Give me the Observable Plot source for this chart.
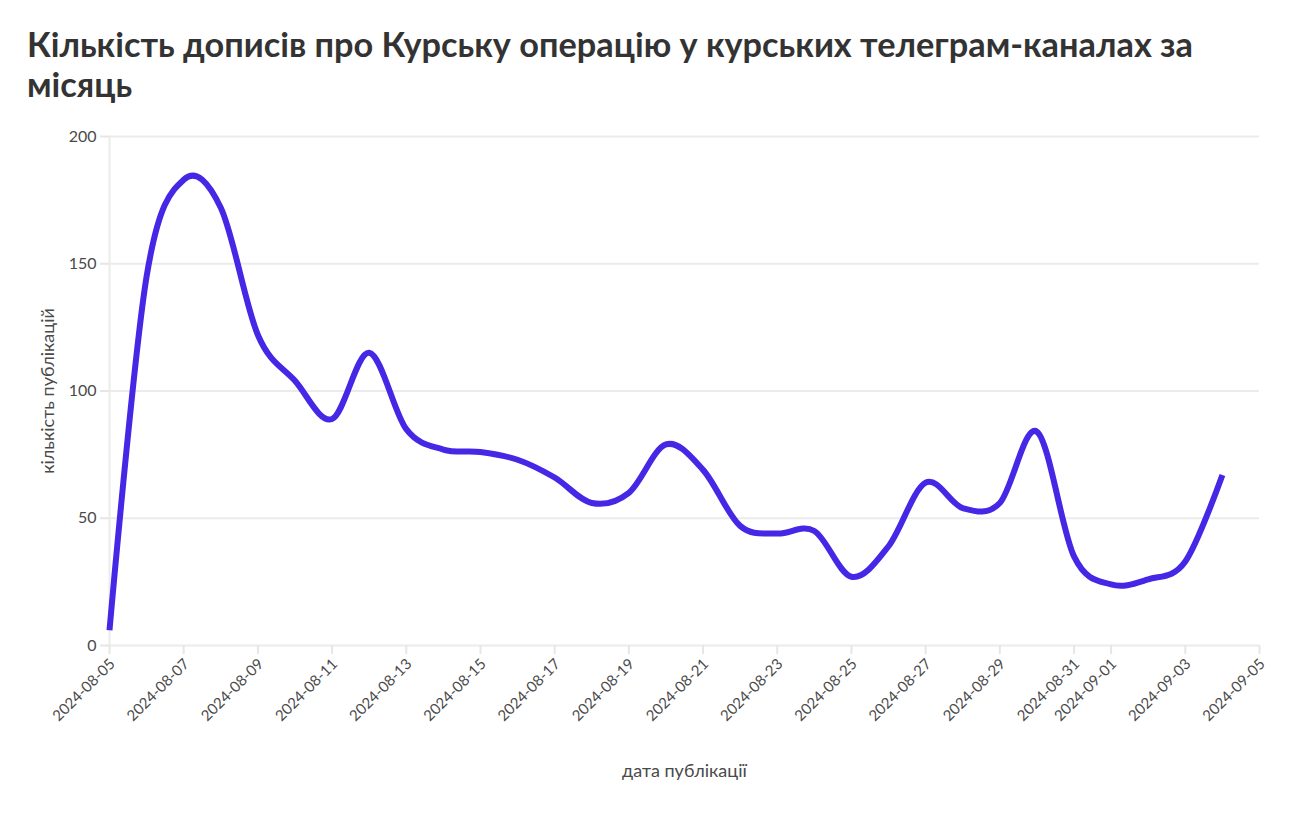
<!DOCTYPE html>
<html><head><meta charset="utf-8">
<script src="https://cdn.jsdelivr.net/npm/d3@7"></script>
<script src="https://cdn.jsdelivr.net/npm/@observablehq/plot@0.6"></script>
<style>
body{margin:0;background:#fff;font-family:Lato,"Noto Sans",sans-serif;}
#title{box-sizing:border-box;height:120px;padding:24px 0 0 27px;width:1240px;font-weight:700;color:#333;line-height:40px;font-size:36px;}
</style></head><body>
<div id="title">Кількість дописів про Курську операцію у курських телеграм-каналах за місяць</div>
<div id="chart"></div>
<script>
const dates = ["2024-08-05","2024-08-06","2024-08-07","2024-08-08","2024-08-09","2024-08-10","2024-08-11","2024-08-12","2024-08-13","2024-08-14","2024-08-15","2024-08-16","2024-08-17","2024-08-18","2024-08-19","2024-08-20","2024-08-21","2024-08-22","2024-08-23","2024-08-24","2024-08-25","2024-08-26","2024-08-27","2024-08-28","2024-08-29","2024-08-30","2024-08-31","2024-09-01","2024-09-02","2024-09-03","2024-09-04"];
const counts = [6,145,183,172,122,104,89,115,85,77,76,73,66,56,60,79,69,47,44,45,27,39,64,54,56,84,35,24,26,33,67];
const xTickLabels = ["2024-08-05","2024-08-07","2024-08-09","2024-08-11","2024-08-13","2024-08-15","2024-08-17","2024-08-19","2024-08-21","2024-08-23","2024-08-25","2024-08-27","2024-08-29","2024-08-31","2024-09-01","2024-09-03","2024-09-05"];
const yTicks = [0,50,100,150,200];
const xDomain = ["2024-08-05","2024-09-05"];
const titleLine1 = "Кількість дописів про Курську операцію у курських телеграм-каналах за";
const xLabel = "дата публікації";
const yLabel = "кількість публікацій";

// fit title font size to reference width
const cv = document.createElement("canvas").getContext("2d");
cv.font = "700 100px Lato";
const w = cv.measureText(titleLine1).width;
document.getElementById("title").style.fontSize = (100 * 1166 / w).toFixed(2) + "px";

const data = dates.map((d, i) => ({date: new Date(d), count: counts[i]}));
const d0 = new Date(xDomain[0]), d1 = new Date(xDomain[1]);
const xTicks = xTickLabels.map(d => new Date(d));

const chart = Plot.plot({
  width: 1300,
  height: 716,
  marginTop: 16,
  marginBottom: 191,
  marginLeft: 109,
  marginRight: 41,
  style: {fontFamily: "Lato, 'Noto Sans', sans-serif", fontSize: "15px", color: "#4a4a4a", background: "#fff"},
  x: {type: "utc", domain: [d0, d1]},
  y: {domain: [0, 200]},
  marks: [
    Plot.gridY(yTicks, {stroke: "#ebebeb", strokeOpacity: 1, strokeWidth: 2}),
    Plot.ruleX([d0], {y1: 0, y2: 200, stroke: "#ebebeb", strokeWidth: 2}),
    Plot.axisY({ticks: yTicks, tickSize: 9, tickPadding: 4, stroke: "#e6e6e6", strokeOpacity: 1, strokeWidth: 2, fill: "#4a4a4a", fontSize: 16, label: null}),
    Plot.axisX({ticks: xTicks, tickFormat: () => "", tickSize: 9, stroke: "#e6e6e6", strokeOpacity: 1, strokeWidth: 2, label: null}),
    Plot.axisX({ticks: xTicks, tickFormat: d3.utcFormat("%Y-%m-%d"), tickRotate: -45, tickSize: 0, tickPadding: 16, dx: 3, fill: "#4a4a4a", fontSize: 15, label: null}),
    Plot.text([yLabel], {frameAnchor: "left", textAnchor: "middle", dx: -61, rotate: -90, fontSize: 18, fill: "#4a4a4a"}),
    Plot.text([xLabel], {frameAnchor: "bottom", textAnchor: "middle", dy: 131, fontSize: 18, fill: "#4a4a4a"}),
    Plot.line(data, {x: "date", y: "count", curve: "cardinal", stroke: "#4527e6", strokeWidth: 6, strokeLinecap: "butt", strokeLinejoin: "round"})
  ]
});
document.getElementById("chart").appendChild(chart);
</script>
</body></html>
